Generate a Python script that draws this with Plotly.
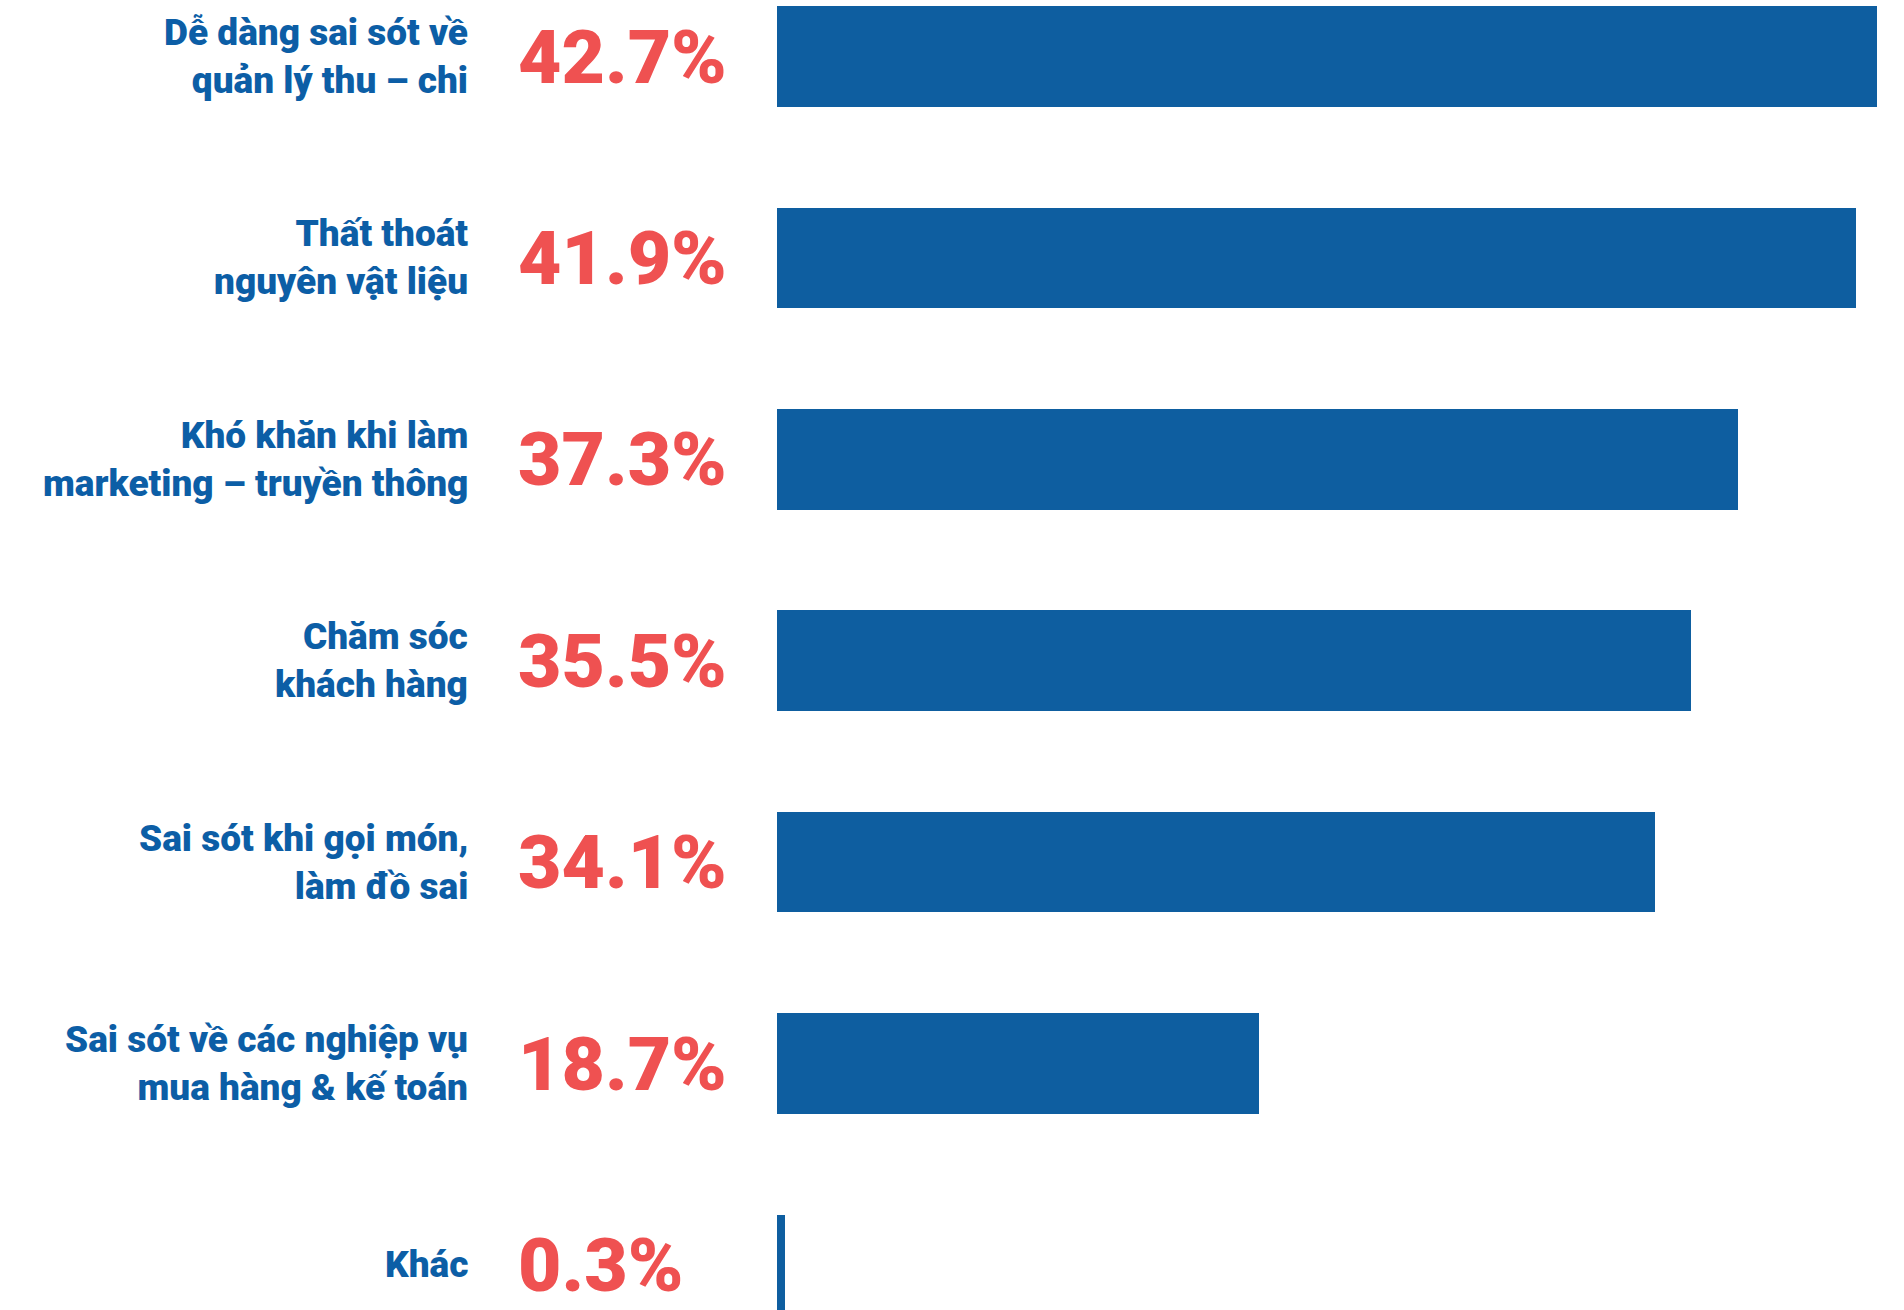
import plotly.graph_objects as go

# Survey results: operational difficulties (share of respondents, %)
categories = [
    "Dễ dàng sai sót về<br>quản lý thu – chi",
    "Thất thoát<br>nguyên vật liệu",
    "Khó khăn khi làm<br>marketing – truyền thông",
    "Chăm sóc<br>khách hàng",
    "Sai sót khi gọi món,<br>làm đồ sai",
    "Sai sót về các nghiệp vụ<br>mua hàng &amp; kế toán",
    "Khác",
]
values = [42.7, 41.9, 37.3, 35.5, 34.1, 18.7, 0.3]

BLUE = "#0e5ea0"
TEXT_BLUE = "#0c5ea6"
RED = "#ef5151"
FONT = "Roboto"

W, H = 1904, 1310
LEFT = 777
PX_PER_PCT = 25.76
ROW = 201.4
FIRST_CENTER = 56.5

positions = list(range(len(categories)))

fig = go.Figure(
    go.Bar(
        x=values,
        y=positions,
        orientation="h",
        width=0.5,
        marker=dict(color=BLUE, line=dict(width=0)),
        hoverinfo="skip",
    )
)

plot_w = W - LEFT
x_max = plot_w / PX_PER_PCT
y_top = -FIRST_CENTER / ROW
y_bottom = (H - FIRST_CENTER) / ROW

annotations = []
for pos, cat, val in zip(positions, categories, values):
    annotations.append(dict(
        x=(470 - LEFT) / plot_w, xref="paper",
        y=pos, yref="y",
        text=cat,
        showarrow=False,
        xanchor="right", yanchor="middle", align="right",
        font=dict(family=FONT, size=37, color=TEXT_BLUE, weight=900),
    ))
    annotations.append(dict(
        x=(516 - LEFT) / plot_w, xref="paper",
        y=pos, yref="y",
        text=f"{val}%",
        showarrow=False,
        xanchor="left", yanchor="middle", align="left",
        font=dict(family=FONT, size=75, color=RED, weight=900),
    ))

fig.update_layout(
    width=W, height=H,
    margin=dict(l=LEFT, r=0, t=0, b=0),
    paper_bgcolor="white",
    plot_bgcolor="white",
    showlegend=False,
    bargap=0,
    xaxis=dict(range=[0, x_max], visible=False, fixedrange=True),
    yaxis=dict(range=[y_bottom, y_top], visible=False, fixedrange=True),
    annotations=annotations,
)

fig.write_html("out.html")
